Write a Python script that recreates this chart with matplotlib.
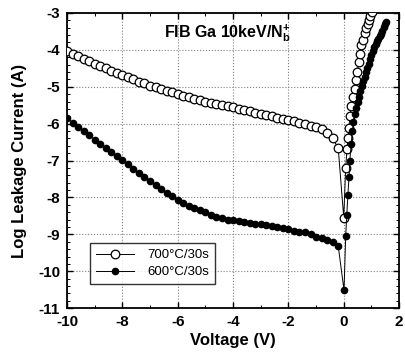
import matplotlib
matplotlib.use("Agg")
import matplotlib.pyplot as plt
from matplotlib.ticker import MultipleLocator

plt.rcParams['font.family'] = ['Liberation Sans', 'DejaVu Sans']
plt.rcParams['mathtext.fontset'] = 'custom'
plt.rcParams['mathtext.rm'] = 'Liberation Sans:bold'
plt.rcParams['mathtext.bf'] = 'Liberation Sans:bold'
plt.rcParams['axes.unicode_minus'] = False

# 700C/30s anneal (open circles)
v700 = [-10.0, -9.8, -9.6, -9.4, -9.2, -9.0, -8.8, -8.6, -8.4, -8.2,
        -8.0, -7.8, -7.6, -7.4, -7.2, -7.0, -6.8, -6.6, -6.4, -6.2,
        -6.0, -5.8, -5.6, -5.4, -5.2, -5.0, -4.8, -4.6, -4.4, -4.2,
        -4.0, -3.8, -3.6, -3.4, -3.2, -3.0, -2.8, -2.6, -2.4, -2.2,
        -2.0, -1.8, -1.6, -1.4, -1.2, -1.0, -0.8, -0.6, -0.4, -0.2,
        0.00, 0.07, 0.12, 0.15, 0.19, 0.22, 0.28, 0.33, 0.39, 0.43,
        0.49, 0.54, 0.60, 0.64, 0.69, 0.76, 0.81, 0.86, 0.90, 0.96, 1.02]
i700 = [-4.03, -4.10, -4.17, -4.24, -4.31, -4.37, -4.43, -4.50, -4.56, -4.62,
        -4.68, -4.74, -4.80, -4.86, -4.91, -4.97, -5.01, -5.06, -5.11, -5.15,
        -5.20, -5.24, -5.28, -5.32, -5.36, -5.40, -5.43, -5.46, -5.50, -5.53,
        -5.56, -5.59, -5.63, -5.66, -5.70, -5.73, -5.77, -5.80, -5.84, -5.87,
        -5.91, -5.94, -5.98, -6.01, -6.05, -6.09, -6.15, -6.25, -6.40, -6.66,
        -8.55, -7.20, -6.68, -6.38, -6.12, -5.80, -5.53, -5.27, -5.05, -4.82,
        -4.60, -4.32, -4.10, -3.87, -3.72, -3.55, -3.42, -3.30, -3.19, -3.08, -2.97]

# 600C/30s anneal (filled circles)
v600 = [-10.0, -9.8, -9.6, -9.4, -9.2, -9.0, -8.8, -8.6, -8.4, -8.2,
        -8.0, -7.8, -7.6, -7.4, -7.2, -7.0, -6.8, -6.6, -6.4, -6.2,
        -6.0, -5.8, -5.6, -5.4, -5.2, -5.0, -4.8, -4.6, -4.4, -4.2,
        -4.0, -3.8, -3.6, -3.4, -3.2, -3.0, -2.8, -2.6, -2.4, -2.2,
        -2.0, -1.8, -1.6, -1.4, -1.2, -1.0, -0.8, -0.6, -0.4, -0.2,
        0.01, 0.07, 0.11, 0.15, 0.19, 0.22, 0.27, 0.31, 0.35, 0.40,
        0.45, 0.50, 0.55, 0.60, 0.65, 0.70, 0.75, 0.80, 0.85, 0.90,
        0.95, 1.00, 1.05, 1.10, 1.15, 1.20, 1.25, 1.30, 1.35, 1.40,
        1.45, 1.50, 1.53]
i600 = [-5.84, -5.97, -6.09, -6.20, -6.31, -6.43, -6.54, -6.65, -6.77, -6.88,
        -6.99, -7.10, -7.22, -7.34, -7.45, -7.56, -7.67, -7.77, -7.87, -7.97,
        -8.06, -8.15, -8.22, -8.29, -8.35, -8.40, -8.47, -8.53, -8.56, -8.60,
        -8.62, -8.64, -8.67, -8.70, -8.71, -8.71, -8.74, -8.78, -8.81, -8.83,
        -8.86, -8.90, -8.93, -8.93, -8.99, -9.06, -9.10, -9.15, -9.22, -9.31,
        -10.52, -9.05, -8.47, -7.93, -7.45, -7.00, -6.55, -6.20, -5.95, -5.75,
        -5.58, -5.42, -5.27, -5.12, -4.98, -4.85, -4.73, -4.61, -4.50, -4.38,
        -4.26, -4.13, -4.02, -3.93, -3.85, -3.77, -3.70, -3.63, -3.56, -3.48,
        -3.39, -3.31, -3.25]

xticks = [-10, -8, -6, -4, -2, 0, 2]
yticks = [-11, -10, -9, -8, -7, -6, -5, -4, -3]

fig = plt.figure(figsize=(4.06, 3.6), dpi=100)
ax = fig.add_axes([0.165, 0.144, 0.818, 0.82])

ax.plot(v700, i700, color="black", lw=0.7, marker="o", ms=6.2,
        mfc="white", mec="black", mew=0.9, label="700°C/30s", zorder=3)
ax.plot(v600, i600, color="black", lw=0.7, marker="o", ms=4.5,
        mfc="black", mec="black", label="600°C/30s", zorder=4)

ax.set_xlim(-10, 2)
ax.set_ylim(-11, -3)
ax.set_xticks(xticks)
ax.set_yticks(yticks)
ax.xaxis.set_minor_locator(MultipleLocator(1))
ax.yaxis.set_minor_locator(MultipleLocator(0.2))
ax.tick_params(which="both", direction="in", top=True, right=True)
ax.tick_params(which="major", length=4, width=1, pad=5)
ax.tick_params(which="minor", length=2, width=0.7)
for lab in ax.get_xticklabels() + ax.get_yticklabels():
    lab.set_fontweight("bold")
    lab.set_fontsize(11)
ax.grid(True, which="major", color="gray", ls=":", lw=0.8)
for s in ax.spines.values():
    s.set_linewidth(1.3)

ax.set_xlabel("Voltage (V)", fontsize=12, fontweight="bold", labelpad=3)
ax.set_ylabel("Log Leakage Current (A)", fontsize=12, fontweight="bold",
              labelpad=8)

ax.text(-4.2, -3.55, r"FIB Ga 10keV/N$_{\mathbf{b}}^{\mathbf{+}}$", fontsize=11.5,
        fontweight="bold", ha="center", va="center")

leg = ax.legend(loc="lower left", bbox_to_anchor=(0.068, 0.081), fontsize=9.5,
                frameon=True, fancybox=False, edgecolor="black",
                handlelength=2.9, borderpad=0.45, labelspacing=0.35,
                handletextpad=1.0, borderaxespad=0)
leg.get_frame().set_linewidth(1.0)

fig.savefig("out.png", dpi=100)
